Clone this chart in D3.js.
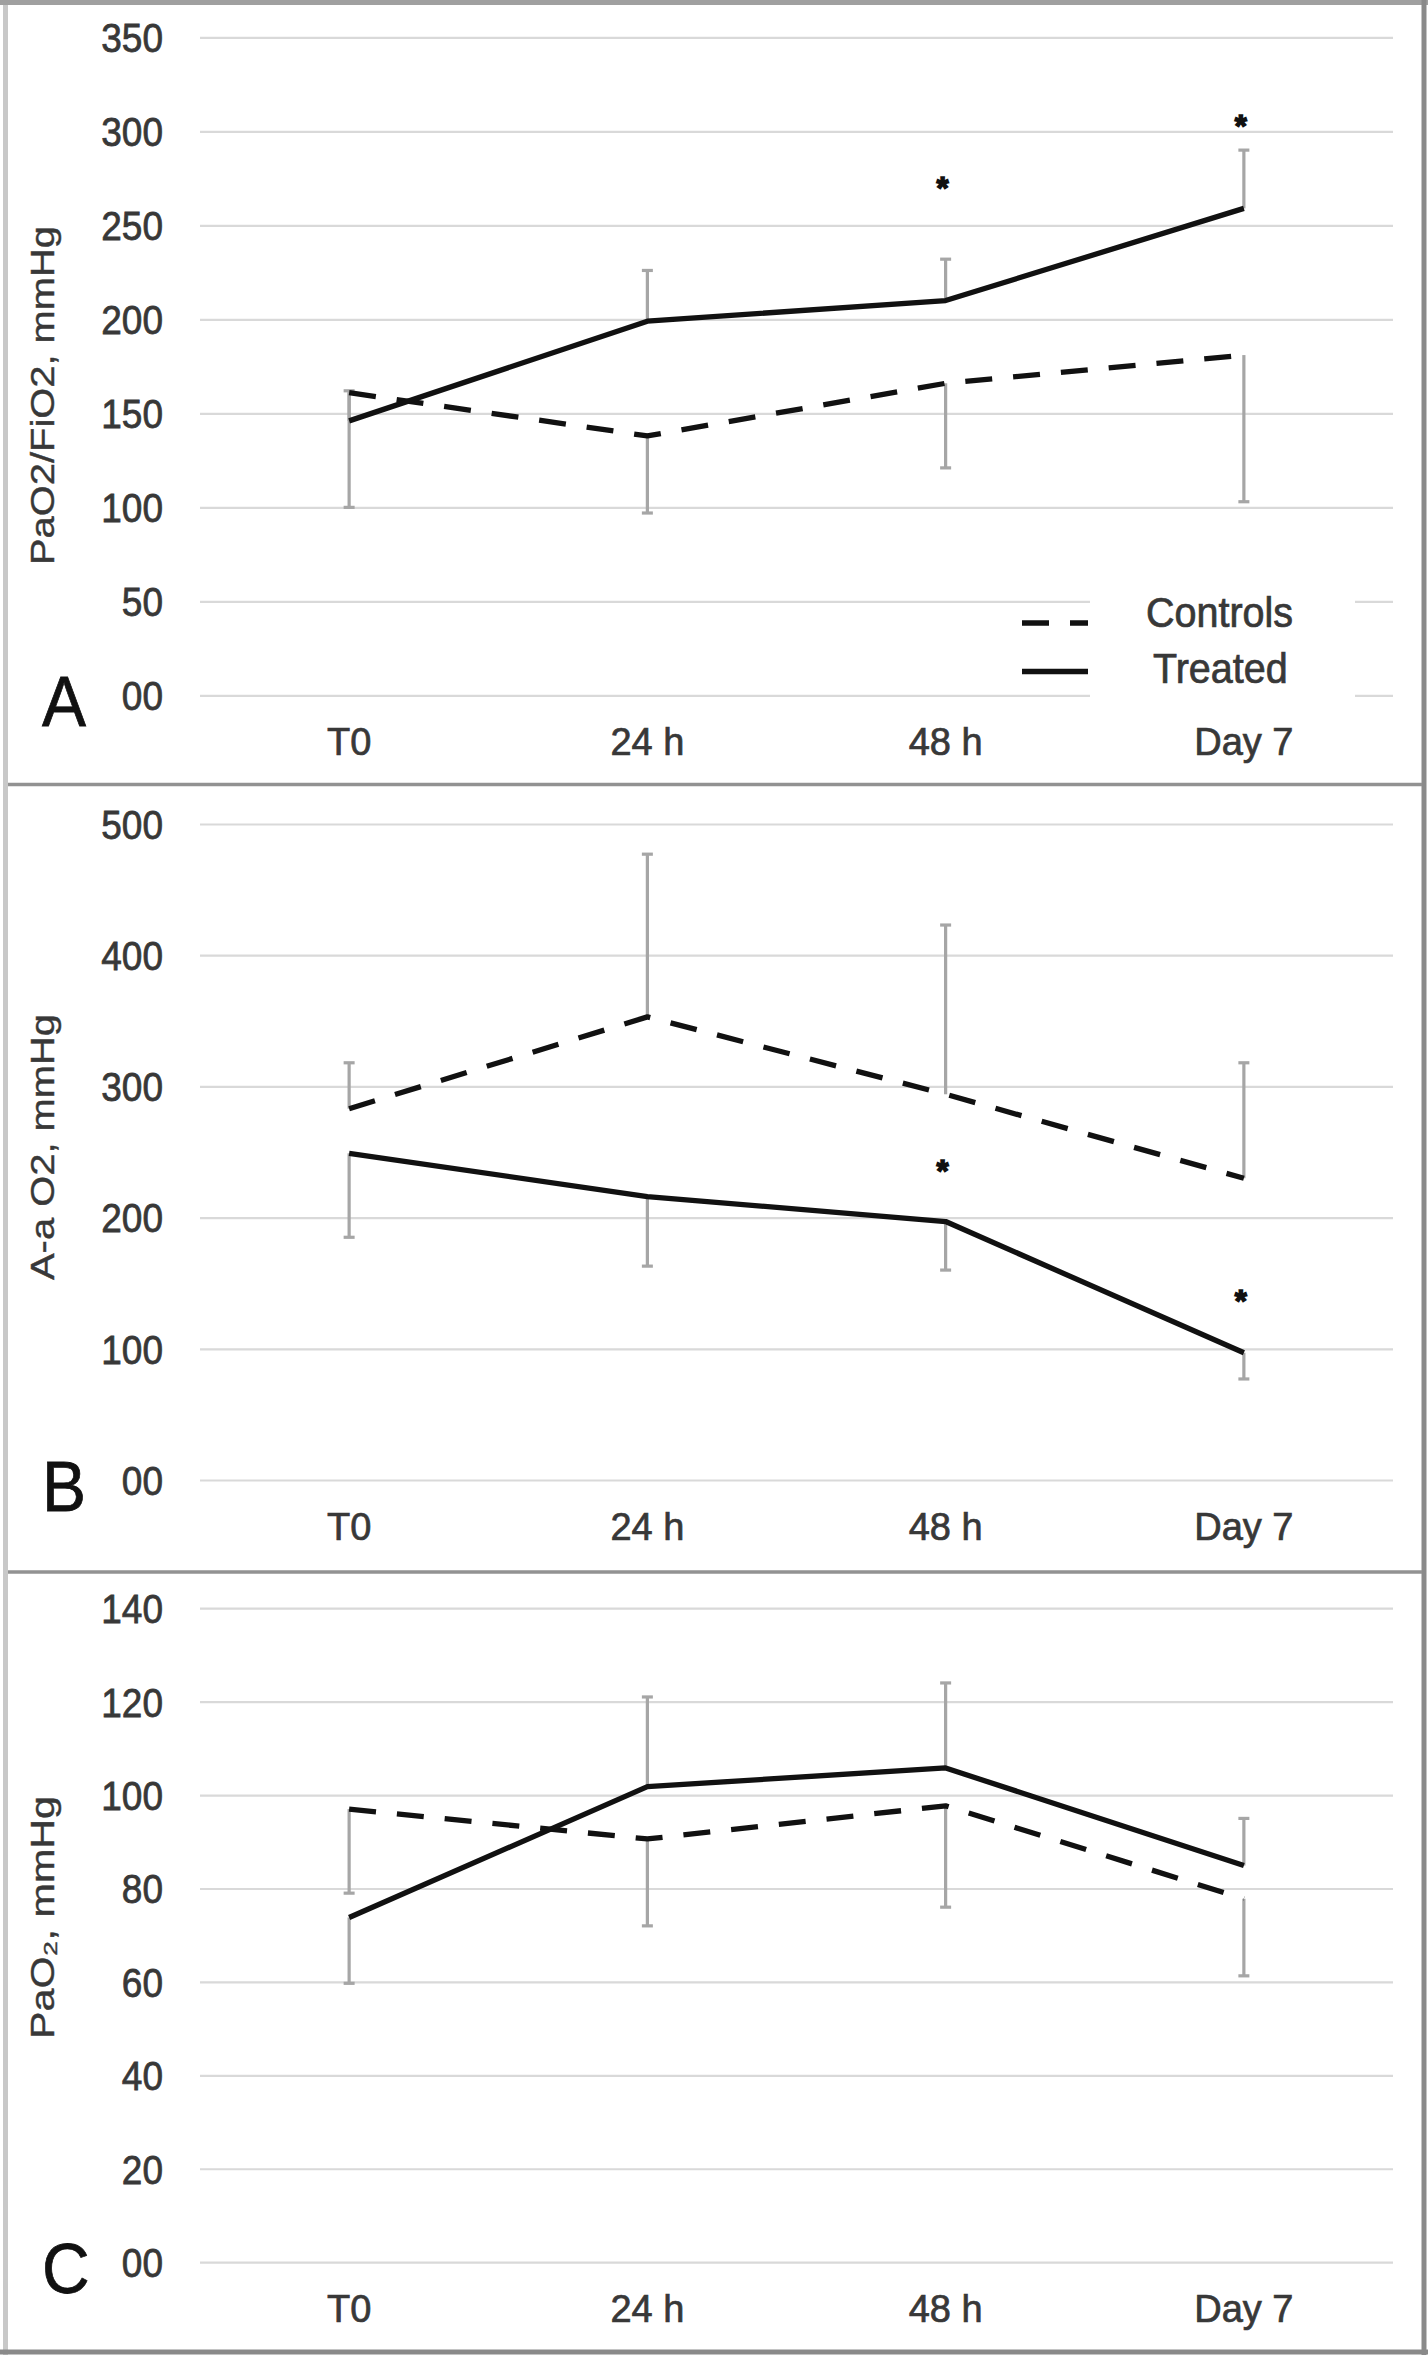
<!DOCTYPE html>
<html>
<head>
<meta charset="utf-8">
<script src="https://cdn.jsdelivr.net/npm/d3@7"></script>
<style>
  html, body { margin: 0; padding: 0; background: #fff; }
  svg { display: block; }
  text { font-family: "Liberation Sans", Arial, Helvetica, sans-serif; }
</style>
</head>
<body>
<svg id="chart" width="1428" height="2355"></svg>
<script>
// ---------------- DATA ----------------
const categories = ["T0", "24 h", "48 h", "Day 7"];
const seriesNames = ["Controls", "Treated"];

// Panel A: PaO2/FiO2, mmHg
const aTicks = [0, 50, 100, 150, 200, 250, 300, 350];
const aTickLabels = ["00", "50", "100", "150", "200", "250", "300", "350"];
const aControls = [161, 138, 166, 181];
const aControlsErr = [100, 97, 121, 103];     // error bar end values
const aTreated = [146, 199, 210, 259];
const aTreatedErr = [162, 226, 232, 290];
const aStars = [null, null, 273, 306];

// Panel B: A-a O2, mmHg
const bTicks = [0, 100, 200, 300, 400, 500];
const bTickLabels = ["00", "100", "200", "300", "400", "500"];
const bControls = [283, 353, 294, 230];
const bControlsErr = [318, 477, 423, 318];
const bTreated = [249, 216, 197, 97];
const bTreatedErr = [185, 163, 160, 77];
const bStars = [null, null, 240, 141];

// Panel C: PaO2, mmHg
const cTicks = [0, 20, 40, 60, 80, 100, 120, 140];
const cTickLabels = ["00", "20", "40", "60", "80", "100", "120", "140"];
const cControls = [97, 90.6, 97.7, 77.8];
const cControlsErr = [79, 72, 76, 61.3];
const cTreated = [73.8, 101.8, 105.8, 84.9];
const cTreatedErr = [59.7, 121, 124, 95];
const cStars = [null, null, null, null];

// ---------------- LAYOUT ----------------
const W = 1428, H = 2355;
const plotLeft = 200, plotRight = 1393;
const FONT_COLOR = "#383838";
const TEXT_STROKE = 0.7;

const panels = [
  { letter: "A", ticks: aTicks, labels: aTickLabels, top: 37.3, zero: 695.4,
    title: "PaO2/FiO2, mmHg", titleY: 395.5, titleLen: 339,
    controls: aControls, controlsErr: aControlsErr, treated: aTreated, treatedErr: aTreatedErr,
    stars: aStars, legend: true },
  { letter: "B", ticks: bTicks, labels: bTickLabels, top: 824, zero: 1480,
    title: "A-a O2, mmHg", titleY: 1147, titleLen: 266,
    controls: bControls, controlsErr: bControlsErr, treated: bTreated, treatedErr: bTreatedErr,
    stars: bStars, legend: false },
  { letter: "C", ticks: cTicks, labels: cTickLabels, top: 1608.2, zero: 2262.2,
    title: "PaO\u2082, mmHg", titleY: 1917.5, titleLen: 243,
    controls: cControls, controlsErr: cControlsErr, treated: cTreated, treatedErr: cTreatedErr,
    stars: cStars, legend: false }
];

const svg = d3.select("#chart");
svg.append("rect").attr("width", W).attr("height", H).attr("fill", "#fff");

const x = d3.scaleBand().domain(categories).range([plotLeft, plotRight]).padding(0);
const cx = c => x(c) + x.bandwidth() / 2;

const DASH = "27,21";
const LINE_W = 5.3;

function weight(sel, color) {
  return sel.attr("stroke", color || FONT_COLOR).attr("stroke-width", TEXT_STROKE);
}

panels.forEach(p => {
  const yMax = p.ticks[p.ticks.length - 1];
  const y = d3.scaleLinear().domain([0, yMax]).range([p.zero, p.top]);
  const g = svg.append("g");

  // gridlines + y tick labels
  const yAxis = d3.axisLeft(y)
    .tickValues(p.ticks)
    .tickSize(-(plotRight - plotLeft))
    .tickPadding(37)
    .tickFormat((d, i) => p.labels[i]);
  const ya = g.append("g").attr("transform", `translate(${plotLeft},0)`).call(yAxis);
  ya.select(".domain").remove();
  ya.selectAll(".tick line").attr("stroke", "#d9d9d9").attr("stroke-width", 2.2);
  weight(ya.selectAll(".tick text")
    .attr("font-size", 37)
    .attr("fill", FONT_COLOR)
    .attr("font-family", '"Liberation Sans", Arial, sans-serif')
    .attr("dy", "0.36em")
    .attr("transform", "scale(1,1.08)"));

  // x tick labels
  const xAxis = d3.axisBottom(x).tickSize(0).tickPadding(0);
  const xa = g.append("g").attr("transform", `translate(0,${p.zero})`).call(xAxis);
  xa.select(".domain").remove();
  weight(xa.selectAll(".tick text")
    .attr("font-size", 38)
    .attr("fill", FONT_COLOR)
    .attr("font-family", '"Liberation Sans", Arial, sans-serif')
    .attr("y", 60)
    .attr("dy", 0));

  // legend (panel A only) - white box behind text
  if (p.legend) {
    const lg = g.append("g");
    lg.append("rect").attr("x", 1090).attr("y", 586).attr("width", 265).attr("height", 116).attr("fill", "#fff");
    lg.append("line").attr("x1", 1022).attr("x2", 1088).attr("y1", 623).attr("y2", 623)
      .attr("stroke", "#111").attr("stroke-width", LINE_W).attr("stroke-dasharray", DASH);
    lg.append("line").attr("x1", 1022).attr("x2", 1088).attr("y1", 671.5).attr("y2", 671.5)
      .attr("stroke", "#111").attr("stroke-width", LINE_W);
    weight(lg.append("text").attr("transform", "translate(1146,627) scale(1,1.06)")
      .attr("font-size", 39.5).attr("fill", FONT_COLOR).text(seriesNames[0]));
    weight(lg.append("text").attr("transform", "translate(1153,683) scale(1,1.06)")
      .attr("font-size", 39.5).attr("fill", FONT_COLOR).text(seriesNames[1]));
  }

  // error bars
  const series = [
    { vals: p.controls, err: p.controlsErr, dash: DASH },
    { vals: p.treated, err: p.treatedErr, dash: null }
  ];
  series.forEach(s => {
    const eg = g.append("g");
    categories.forEach((c, i) => {
      if (s.err[i] == null) return;
      eg.append("line")
        .attr("x1", cx(c)).attr("x2", cx(c))
        .attr("y1", y(s.vals[i])).attr("y2", y(s.err[i]))
        .attr("stroke", "#a6a6a6").attr("stroke-width", 3.2);
      eg.append("line")
        .attr("x1", cx(c) - 5.5).attr("x2", cx(c) + 5.5)
        .attr("y1", y(s.err[i])).attr("y2", y(s.err[i]))
        .attr("stroke", "#a6a6a6").attr("stroke-width", 3.2);
    });
  });

  // lines
  const line = d3.line().x((d, i) => cx(categories[i])).y(d => y(d));
  series.forEach(s => {
    const path = g.append("path").datum(s.vals)
      .attr("d", line)
      .attr("fill", "none")
      .attr("stroke", "#111")
      .attr("stroke-width", LINE_W)
      .attr("stroke-linejoin", "round");
    if (s.dash) path.attr("stroke-dasharray", s.dash);
  });

  // significance asterisks
  categories.forEach((c, i) => {
    if (p.stars[i] == null) return;
    g.append("text")
      .attr("x", cx(c) - 3).attr("y", y(p.stars[i]) + 17)
      .attr("text-anchor", "middle")
      .attr("font-size", 31).attr("font-weight", "bold")
      .attr("fill", "#111").attr("stroke", "#111").attr("stroke-width", 1.5)
      .text("*");
  });

  // y axis title
  weight(g.append("text")
    .attr("transform", `translate(54,${p.titleY}) rotate(-90)`)
    .attr("text-anchor", "middle")
    .attr("font-size", 33)
    .attr("fill", FONT_COLOR)
    .attr("textLength", p.titleLen)
    .attr("lengthAdjust", "spacingAndGlyphs")
    .text(p.title), FONT_COLOR).attr("stroke-width", 0.4);

  // panel letter
  weight(g.append("text")
    .attr("transform", `translate(42,${p.zero + 31}) scale(1,1.08)`)
    .attr("font-size", 66)
    .attr("fill", "#111")
    .text(p.letter), "#111");
});

// frame and dividers
const frame = svg.append("g");
frame.append("line").attr("x1", 5.5).attr("x2", 5.5).attr("y1", 0).attr("y2", H).attr("stroke", "#c8c8c8").attr("stroke-width", 5);
frame.append("line").attr("x1", 0).attr("x2", W).attr("y1", 2.5).attr("y2", 2.5).attr("stroke", "#a0a0a0").attr("stroke-width", 5);
frame.append("line").attr("x1", 1424).attr("x2", 1424).attr("y1", 0).attr("y2", H).attr("stroke", "#8a8a8a").attr("stroke-width", 5);
frame.append("line").attr("x1", 0).attr("x2", W).attr("y1", 2352).attr("y2", 2352).attr("stroke", "#8a8a8a").attr("stroke-width", 5);
[784.5, 1572].forEach(yy => {
  frame.append("line").attr("x1", 8).attr("x2", 1422).attr("y1", yy).attr("y2", yy)
    .attr("stroke", "#929292").attr("stroke-width", 3.5);
});
</script>
</body>
</html>
